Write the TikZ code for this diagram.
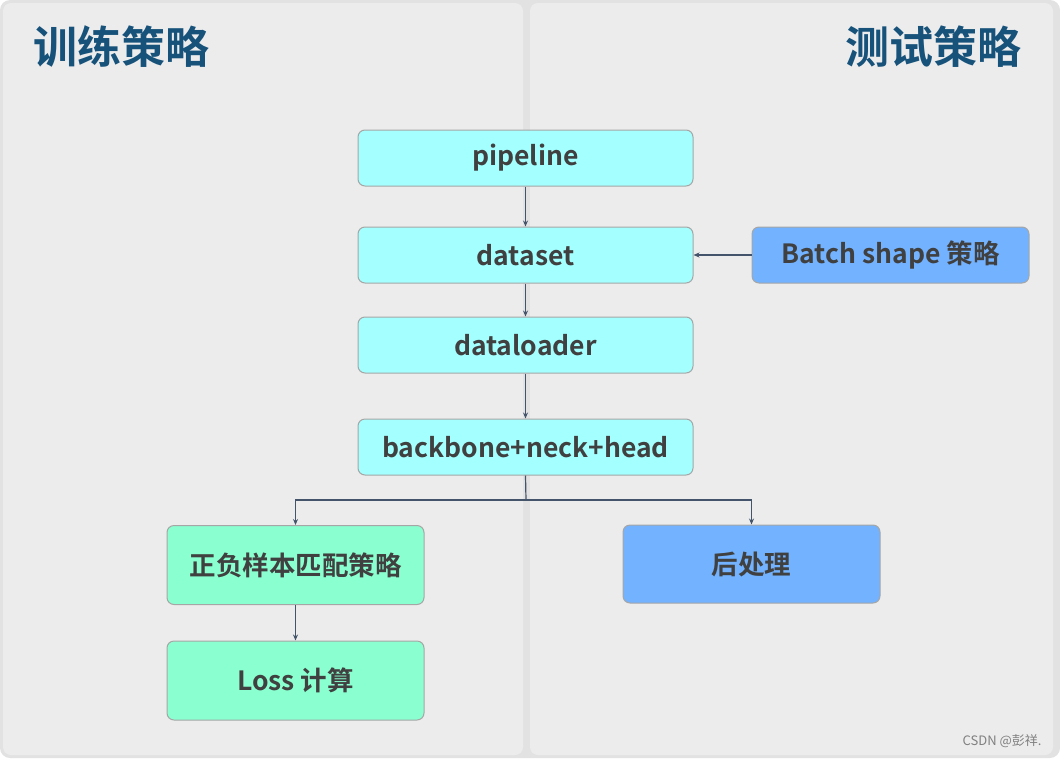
\documentclass[tikz,border=0pt]{standalone}
\usepackage{fontspec}
\setmainfont{Noto Sans CJK SC}
\newfontfamily\cjkb{Noto Sans CJK SC Bold}
\usetikzlibrary{arrows.meta}
\definecolor{bgout}{HTML}{E2E2E2}
\definecolor{panel}{HTML}{ECECEC}
\definecolor{cyanbox}{HTML}{A4FFFF}
\definecolor{greenbox}{HTML}{8AFFD0}
\definecolor{bluebox}{HTML}{72B2FF}
\definecolor{edge}{HTML}{A6A6A6}
\definecolor{txt}{HTML}{404040}
\definecolor{title}{HTML}{16527A}
\definecolor{link}{HTML}{44546A}
\tikzstyle{stage} = [rectangle, rounded corners=7pt, draw=edge, line width=1pt, text=txt, font=\cjkb\fontsize{26.5}{30}\selectfont]
\tikzstyle{pipe} = [stage, fill=cyanbox, minimum width=335pt, minimum height=56pt]
\tikzstyle{train} = [stage, fill=greenbox, minimum width=257pt, minimum height=79pt]
\tikzstyle{test} = [stage, fill=bluebox]
\tikzstyle{flow} = [draw=link, line width=1.2pt, -{Stealth[length=6pt,width=5pt]}]
\tikzstyle{heading} = [text=title, font=\cjkb\fontsize{44}{48}\selectfont]

\begin{document}
\begin{tikzpicture}[x=1pt, y=-1pt]%
			\useasboundingbox (0,0) rectangle (1060,758);%
			\fill[bgout, rounded corners=10pt] (0,0) rectangle (1060,758);%
			\fill[panel, rounded corners=8pt] (3,3) rectangle (523,755);%
			\fill[panel, rounded corners=8pt] (530,3) rectangle (1053,755);%
			\node[heading] (trainhead) at (121,47) {训练策略};%
			\node[heading] (testhead) at (933,47) {测试策略};%
			\node[pipe] (pipeline) at (525.5,158) {pipeline};%
			\node[pipe] (dataset) at (525.5,255) {dataset};%
			\node[pipe] (loader) at (525.5,345) {dataloader};%
			\node[pipe] (model) at (525.5,447) {backbone+neck+head};%
			\node[test, minimum width=277pt, minimum height=56pt] (batch) at (890.5,255) {Batch shape 策略};%
			\node[train] (assign) at (295.5,565) {正负样本匹配策略};%
			\node[train] (loss) at (295.5,680.5) {Loss 计算};%
			\node[test, minimum width=257pt, minimum height=78pt] (post) at (751.5,564) {后处理};%
			\coordinate (split) at (526,500);%
			\draw[flow] (pipeline) -- (dataset);%
			\draw[flow] (dataset) -- (loader);%
			\draw[flow] (loader) -- (model);%
			\draw[flow] (batch) -- (dataset);%
			\draw[draw=link, line width=1.2pt] (model.south) -- (split);%
			\draw[flow] (split) -| (assign.north);%
			\draw[flow] (split) -| (post.north);%
			\draw[flow] (assign) -- (loss);%
			\node[text=gray, font=\fontsize{13}{15}\selectfont, anchor=east] (mark) at (1045,741) {CSDN @彭祥.};%
		\end{tikzpicture}
\end{document}
